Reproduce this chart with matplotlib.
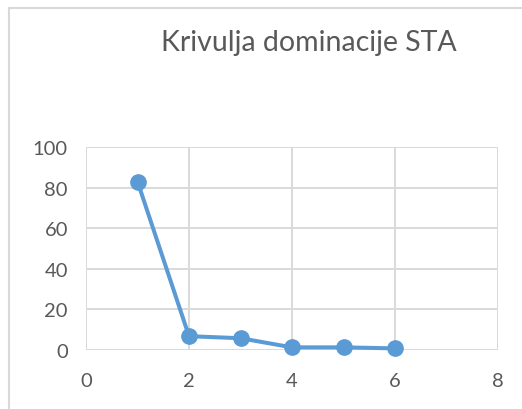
import matplotlib
matplotlib.use("Agg")
import matplotlib.pyplot as plt
from matplotlib.patches import Rectangle

# Data
x_vals = [1, 2, 3, 4, 5, 6]
y_vals = [83, 6.8, 5.8, 1.3, 1.3, 0.8]
x_ticks = [0, 2, 4, 6, 8]
y_ticks = [0, 20, 40, 60, 80, 100]
title = "Krivulja dominacije STA"

plt.rcParams['font.family'] = ['Lato', 'DejaVu Sans']
text_col = "#595959"
grid_col = "#D9D9D9"
line_col = "#5B9BD5"

fig = plt.figure(figsize=(5.22, 4.10), dpi=100)
# chart frame (left/top edge visible)
fig.patches.append(Rectangle((9 / 522, -0.1), 2, (410 - 9) / 410 + 0.1,
                             transform=fig.transFigure, fill=False,
                             edgecolor=grid_col, linewidth=1.5))

ax = fig.add_axes([86 / 522, 59 / 410, (498 - 86) / 522, (351 - 148) / 410])
ax.plot(x_vals, y_vals, color=line_col, linewidth=2.9, marker="o",
        markersize=11, markerfacecolor=line_col, markeredgecolor=line_col,
        zorder=3, clip_on=False)

ax.set_xlim(0, 8)
ax.set_ylim(0, 100)
ax.set_xticks(x_ticks)
ax.set_yticks(y_ticks)
ax.grid(True, color=grid_col, linewidth=1.4)
ax.set_axisbelow(True)
for s in ax.spines.values():
    s.set_visible(False)
ax.tick_params(length=0, labelsize=14.5, labelcolor=text_col)
ax.tick_params(axis="x", pad=16)
ax.tick_params(axis="y", pad=13)

fig.text(309 / 522, 1 - 43 / 410, title, ha="center", va="center",
         fontsize=20.5, color=text_col)

fig.savefig("out.png", dpi=100)
